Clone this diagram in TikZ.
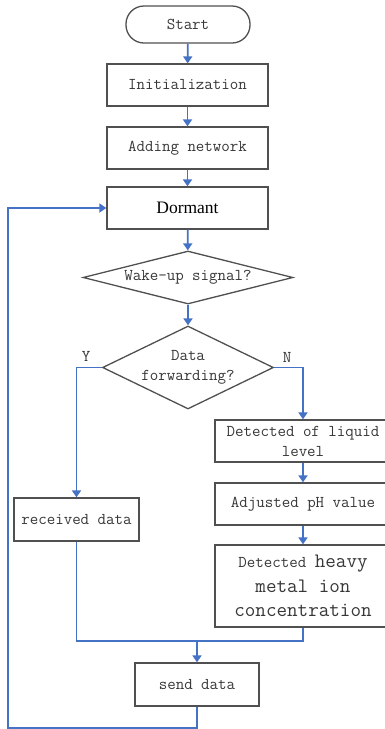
\documentclass[tikz,border=0pt]{standalone}
\usepackage{fontspec}
\setmainfont{Liberation Serif}
\usetikzlibrary{shapes.geometric,arrows.meta}
\definecolor{flowblue}{RGB}{68,114,196}
\definecolor{boxgray}{RGB}{80,80,80}
\definecolor{txtgray}{RGB}{55,55,55}
\tikzset{
  base/.style={draw=boxgray, line width=1.3pt, text=txtgray, inner sep=0pt,
    font=\ttfamily\fontsize{16.5}{20}\selectfont},
  procbox/.style={base, rectangle, align=center},
  termbox/.style={base, rectangle, rounded corners=18pt},
  decbox/.style={base, diamond, align=center},
  flow/.style={draw=flowblue, line width=1.8pt, -{Triangle[width=9pt,length=7pt]}},
  flowline/.style={draw=flowblue, line width=1.8pt},
  lbl/.style={text=txtgray, inner sep=0pt, font=\ttfamily\fontsize{16.5}{20}\selectfont}
}
\begin{document}
\begin{tikzpicture}[x=1pt,y=-1pt]
\useasboundingbox (0,0) rectangle (385,729);
\clip (0,0) rectangle (385,729);
\node[termbox, minimum width=124pt, minimum height=37pt] (start) at (188,24.5) {Start};
\node[procbox, minimum width=161pt, minimum height=42pt] (init) at (187.5,85) {Initialization};
\node[procbox, minimum width=161pt, minimum height=42pt] (add) at (187.5,148) {Adding network};
\node[procbox, minimum width=161pt, minimum height=42pt, font=\rmfamily\fontsize{17.5}{20}\selectfont, text=black] (dorm) at (187.5,208) {Dormant};
\node[decbox, aspect=4, minimum width=210pt, minimum height=53pt] (wake) at (188,277.5) {Wake-up signal?};
\node[decbox, aspect=2, minimum width=171pt, minimum height=83pt] (fwd) at (188,367.5) {Data\\forwarding?};
\node[procbox, minimum width=176pt, minimum height=42pt] (liq) at (303,441) {Detected of liquid\\level};
\node[procbox, minimum width=176pt, minimum height=42pt] (ph) at (303,504) {Adjusted pH value};
\node[procbox, minimum width=176pt, minimum height=82pt, font=\ttfamily\fontsize{20.5}{24.5}\selectfont] (heavy) at (303,586) {{\fontsize{16.5}{24.5}\selectfont Detected }heavy\\metal ion\\concentration};
\node[procbox, minimum width=125pt, minimum height=43pt] (recv) at (76.5,519.5) {received data};
\node[procbox, minimum width=124pt, minimum height=43pt] (send) at (197,684.5) {send data};
\node[lbl] (ylbl) at (86,356) {Y};
\node[lbl] (nlbl) at (287,357) {N};
\coordinate (merge) at (197,641);
\coordinate (loopb) at (8,728);
\coordinate (loopt) at (8,208);
\draw[flow] (start) -- (init);
\draw[flow] (init) -- (add);
\draw[flow] (add) -- (dorm);
\draw[flow] (dorm) -- (wake);
\draw[flow] (wake) -- (fwd);
\draw[flow] (fwd.west) -| (recv.north);
\draw[flow] (fwd.east) -| (liq.north);
\draw[flow] (liq) -- (ph);
\draw[flow] (ph) -- (heavy);
\draw[flowline] (recv.south) |- (merge);
\draw[flowline] (heavy.south) |- (merge);
\draw[flow] (merge) -- (send.north);
\draw[flow] (send.south) |- (loopb) -- (loopt) -- (dorm.west);
\end{tikzpicture}
\end{document}
